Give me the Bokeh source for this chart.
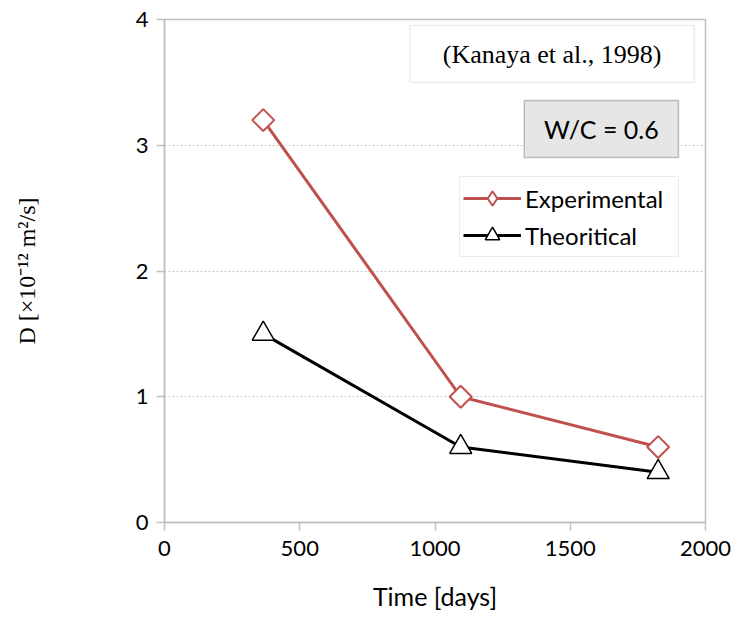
import math
from bokeh.plotting import figure
from bokeh.models import (Range1d, Legend, LegendItem, Label, BoxAnnotation,
                          FixedTicker)
from bokeh.embed import file_html
from bokeh.resources import INLINE

# Chloride diffusion coefficient vs exposure time (W/C = 0.6)
time_days = [365, 1095, 1825]
d_experimental = [3.2, 1.0, 0.6]
d_theoretical = [1.5, 0.6, 0.4]

x_ticks = [0, 500, 1000, 1500, 2000]
y_ticks = [0, 1, 2, 3, 4]

RED = "#c0504d"
GREY = "#bfbfbf"
SANS = "Lato"
SERIF = "Liberation Serif"

p = figure(width=734, height=623, output_backend="svg", toolbar_location=None,
           x_range=Range1d(0, 2000), y_range=Range1d(0, 4),
           min_border_left=164, min_border_right=29,
           min_border_top=19, min_border_bottom=101)

p.outline_line_color = GREY
p.outline_line_width = 1.5
p.background_fill_color = "white"
p.border_fill_color = "white"

p.xgrid.grid_line_color = None
p.ygrid.grid_line_color = "#c8c8c8"
p.ygrid.grid_line_dash = "2 2"
p.ygrid.grid_line_width = 1

p.xaxis.ticker = FixedTicker(ticks=x_ticks)
p.yaxis.ticker = FixedTicker(ticks=y_ticks)
for ax in (p.xaxis, p.yaxis):
    ax.axis_line_color = GREY
    ax.axis_line_width = 1.5
    ax.major_tick_line_color = GREY
    ax.major_tick_line_width = 1.5
    ax.major_tick_out = 8
    ax.major_tick_in = 0
    ax.minor_tick_line_color = None
    ax.major_label_text_font = SANS
    ax.major_label_text_font_size = "22px"
    ax.major_label_text_color = "black"
p.xaxis.major_label_standoff = 10
p.yaxis.major_label_standoff = 8

p.xaxis.axis_label = "Time [days]"
p.xaxis.axis_label_text_font = SANS
p.xaxis.axis_label_text_font_size = "25px"
p.xaxis.axis_label_text_font_style = "normal"
p.xaxis.axis_label_text_color = "black"
p.xaxis.axis_label_standoff = 22

p.yaxis.axis_label = "D [×10⁻¹² m²/s]"
p.yaxis.axis_label_text_font = SERIF
p.yaxis.axis_label_text_font_size = "24px"
p.yaxis.axis_label_text_font_style = "normal"
p.yaxis.axis_label_text_color = "black"
p.yaxis.axis_label_standoff = 93

# Series: lines with open markers
exp_line = p.line(time_days, d_experimental, line_color=RED, line_width=3)
# small diamond used as the legend swatch; hidden under the larger marker
exp_key = p.scatter(time_days, d_experimental, marker="diamond", size=9,
                    fill_color="white", line_color=RED, line_width=2)
exp_pts = p.scatter(time_days, d_experimental, marker="square", size=15.5,
                    angle=math.pi / 4, fill_color="white", line_color=RED,
                    line_width=2)
th_line = p.line(time_days, d_theoretical, line_color="black", line_width=3)
th_pts = p.scatter(time_days, d_theoretical, marker="triangle", size=22,
                   fill_color="white", line_color="black", line_width=1.5)

legend = Legend(items=[
    LegendItem(label="Experimental", renderers=[exp_line, exp_key]),
    LegendItem(label="Theoritical", renderers=[th_line, th_pts]),
], location=(295, 265))
legend.border_line_color = "#d9d9d9"
legend.border_line_width = 1
legend.background_fill_color = "white"
legend.label_text_font = SANS
legend.label_text_font_size = "24px"
legend.label_text_color = "black"
legend.label_width = 150
legend.glyph_width = 58
legend.glyph_height = 36
legend.spacing = 1
legend.padding = 3
legend.margin = 0
legend.label_standoff = 4
p.add_layout(legend, "center")

# Reference annotation box
p.add_layout(BoxAnnotation(left=907, right=1959, bottom=3.499, top=3.952,
                           fill_color="white", fill_alpha=1,
                           line_color=GREY, line_width=1.5, level="overlay"))
p.add_layout(Label(x=1433, y=3.725, text="(Kanaya et al., 1998)",
                   text_font=SERIF, text_font_size="26px", text_color="black",
                   text_align="center", text_baseline="middle", level="overlay"))

# Mix ratio box
p.add_layout(BoxAnnotation(left=1330, right=1900, bottom=2.903, top=3.356,
                           fill_color="#e6e6e6", fill_alpha=1,
                           line_color="#404040", line_width=1.5, level="overlay"))
p.add_layout(Label(x=1615, y=3.13, text="W/C = 0.6",
                   text_font=SANS, text_font_size="25px", text_color="black",
                   text_align="center", text_baseline="middle", level="overlay"))

open("out.html", "w").write(file_html(p, INLINE))
